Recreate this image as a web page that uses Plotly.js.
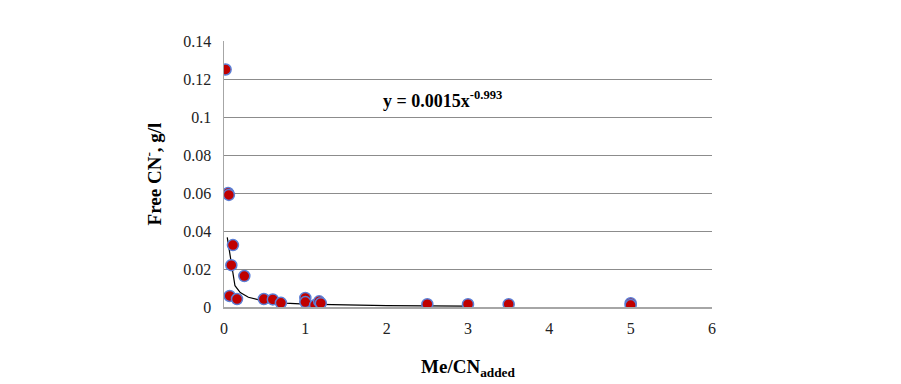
<!DOCTYPE html>
<html>
<head>
<meta charset="utf-8">
<script src="https://cdn.plot.ly/plotly-3.0.1.min.js"></script>
<style>html,body{margin:0;padding:0;background:#fff;}#chart{width:901px;height:384px;}</style>
</head>
<body>
<div id="chart"></div>
<script>
// Measured points: Me/CN added vs free CN- (g/l)
const ratioAdded = [0.02, 0.05, 0.06, 0.11, 0.09, 0.25, 0.07, 0.16, 0.49, 0.60, 0.70, 1.00, 1.00, 1.12, 1.17, 1.19, 2.50, 3.00, 3.50, 5.00, 5.00];
const freeCN =     [0.125, 0.060, 0.059, 0.0326, 0.022, 0.0163, 0.0058, 0.0042, 0.0042, 0.0040, 0.0022, 0.0048, 0.0026, 0.0010, 0.0030, 0.0020, 0.0015, 0.0015, 0.0015, 0.0020, 0.0010];

// Power trendline as drawn (y = 0.0015x^-0.993)
const trendX = [0.04, 0.135, 0.2, 0.3, 0.5, 0.75, 1.0, 1.5, 2.0, 2.5, 3.0];
const trendY = [0.0366, 0.0112, 0.0076, 0.0051, 0.0030, 0.0020, 0.0015, 0.0010, 0.00075, 0.0006, 0.0005];

const xTicks = [0, 1, 2, 3, 4, 5, 6];
const yTicks = [0, 0.02, 0.04, 0.06, 0.08, 0.1, 0.12, 0.14];
const yTickText = ['0', '0.02', '0.04', '0.06', '0.08', '0.1', '0.12', '0.14'];

const serif = 'Liberation Serif, serif';

const traces = [
  {
    x: trendX, y: trendY, type: 'scatter', mode: 'lines',
    line: {color: '#000000', width: 1.2},
    hoverinfo: 'skip', showlegend: false
  },
  {
    x: ratioAdded, y: freeCN, type: 'scatter', mode: 'markers',
    marker: {color: '#C00000', size: 11, line: {color: '#5B7FD6', width: 1.5}},
    showlegend: false
  }
];

const layout = {
  width: 901, height: 384,
  margin: {l: 224, r: 189, t: 41, b: 77},
  paper_bgcolor: '#ffffff', plot_bgcolor: '#ffffff',
  font: {family: serif, size: 16, color: '#000'},
  xaxis: {
    range: [0, 6], tickvals: xTicks, ticktext: xTicks.map(String),
    showgrid: false, zeroline: false,
    showline: true, linecolor: '#a6a6a6', linewidth: 1.5,
    ticks: '', ticklen: 0, ticklabelstandoff: 6,
    tickfont: {family: serif, size: 16, color: '#222'},
    title: {text: '<b>Me/CN<sub>added</sub></b>', font: {family: serif, size: 19, color: '#000'}, standoff: 24}
  },
  yaxis: {
    range: [0, 0.14], tickvals: yTicks, ticktext: yTickText,
    showgrid: true, gridcolor: '#8c8c8c', gridwidth: 1,
    zeroline: false,
    showline: true, linecolor: '#a6a6a6', linewidth: 1.5,
    ticks: '', ticklen: 0, ticklabelstandoff: 8,
    tickfont: {family: serif, size: 16, color: '#222'},
    title: {text: '<b>Free CN<sup>-</sup>, g/l</b>', font: {family: serif, size: 19, color: '#000'}, standoff: 16}
  },
  annotations: [{
    x: 2.69, y: 0.109, xref: 'x', yref: 'y',
    text: '<b>y = 0.0015x<sup>-0.993</sup></b>',
    showarrow: false, font: {family: serif, size: 18, color: '#000'}
  }]
};

Plotly.newPlot('chart', traces, layout, {displayModeBar: false, staticPlot: true});
</script>
</body>
</html>
